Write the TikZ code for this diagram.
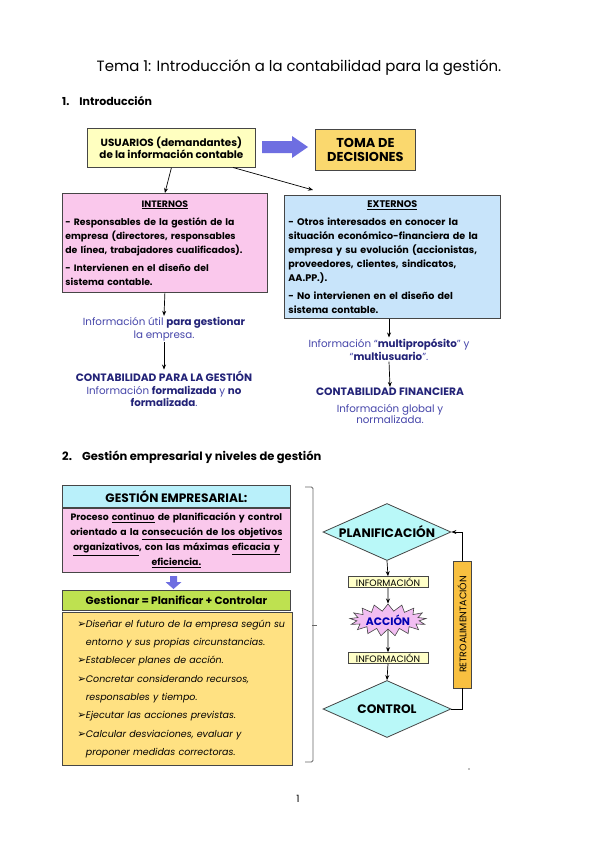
\documentclass[tikz,border=0pt]{standalone}
\usepackage{fontspec}
\setmainfont{Poppins}
\newfontfamily\symfont{DejaVu Sans}
\usetikzlibrary{arrows.meta,shapes.geometric,shapes.symbols,positioning}

\definecolor{usuyellow}{RGB}{255,255,192}
\definecolor{tomagold}{RGB}{250,216,110}
\definecolor{intpink}{RGB}{250,200,236}
\definecolor{extblue}{RGB}{200,228,250}
\definecolor{infoblue}{RGB}{70,70,170}
\definecolor{darkblue}{RGB}{35,35,120}
\definecolor{arrowblue}{RGB}{110,110,225}
\definecolor{gestcyan}{RGB}{185,240,250}
\definecolor{gestgreen}{RGB}{190,225,80}
\definecolor{listgold}{RGB}{255,225,130}
\definecolor{diacyan}{RGB}{185,248,248}
\definecolor{starpink}{RGB}{242,190,242}
\definecolor{retrogold}{RGB}{248,192,64}
\definecolor{infobox}{RGB}{255,255,200}
\definecolor{boxline}{RGB}{70,70,70}

\newcommand{\fs}[2]{\fontsize{#1}{#2}\selectfont}
\newcommand{\bul}{\makebox[8.5pt][l]{\symfont\fontsize{10.5}{10}\selectfont\char"27A2}}

\tikzset{
  box/.style={draw=boxline, line width=0.8pt, inner sep=3pt},
  arr/.style={-{Stealth[length=5pt,width=4pt]}, line width=0.7pt},
  infotext/.style={text=infoblue, align=center, inner sep=1pt},
  smallinfo/.style={box, fill=infobox, line width=0.6pt, minimum width=80pt, minimum height=11pt,
    inner sep=0pt, font=\fs{9.3}{10}},
  dia/.style={diamond, aspect=2.23, draw=boxline, line width=0.8pt, fill=diacyan, inner sep=0pt,
    minimum width=128pt, minimum height=57pt, font=\bfseries\fs{12.3}{13}}
}

\begin{document}
\begin{tikzpicture}[x=1pt,y=-1pt]
\useasboundingbox[fill=white] (0,0) rectangle (599,848);

% titulo y apartado 1
\node (titulo) at (299,68) {\fs{14.9}{17}Tema 1: Introducción a la contabilidad para la gestión.};
\node[anchor=west, inner sep=0pt] (sec1) at (62,101) {\bfseries\fs{11}{12}1.\hspace{10pt}Introducción};

\node[box, fill=usuyellow, anchor=north west, minimum width=168pt, minimum height=39pt,
  align=center, font=\bfseries\fs{10.4}{12}] (usu) at (87,128)
  {USUARIOS (demandantes)\\de la información contable};
\node[box, fill=tomagold, anchor=north west, minimum width=100pt, minimum height=41pt,
  align=center, font=\bfseries\fs{12.9}{14}] (toma) at (315,129) {TOMA DE\\DECISIONES};
\fill[arrowblue] (262,141) -- (292,141) -- (292,136) -- (308,147) -- (292,158)
  -- (292,153) -- (262,153) -- cycle;

\node[box, fill=intpink, anchor=north west, minimum width=205pt, minimum height=99pt,
  inner xsep=3pt, text width=199pt, align=left, font=\bfseries\fs{9.3}{14}] (intern) at (62,193)
  {\makebox[199pt][c]{\underline{INTERNOS}}\\[4pt]
   - Responsables de la gestión de la\\
   empresa (directores, responsables\\
   \mbox{de línea, trabajadores cualificados).}\\[4pt]
   - Intervienen en el diseño del\\
   sistema contable.};
\node[box, fill=extblue, anchor=north west, minimum width=216pt, minimum height=123pt,
  inner xsep=4pt, text width=208pt, align=left, font=\bfseries\fs{9.6}{14}] (extern) at (284,195)
  {\makebox[208pt][c]{\underline{EXTERNOS}}\\[4pt]
   - Otros interesados en conocer la\\
   \mbox{situación económico-financiera de la}\\
   \mbox{empresa y su evolución (accionistas,}\\
   proveedores, clientes, sindicatos,\\
   AA.PP.).\\[4pt]
   - No intervienen en el diseño del\\
   sistema contable.};

\draw[arr] (usu.south) -- (intern.north);
\draw[arr] (233,167.5) -- (313,190);

% informacion interna
\node[infotext, font=\fs{10.3}{13}] (infoA) at (164,329)
  {Información útil \textbf{\color{darkblue}para gestionar}\\la empresa.};
\node[infotext, text=darkblue, font=\bfseries\fs{10.7}{12}] (contA) at (164,376)
  {CONTABILIDAD PARA LA GESTIÓN};
\node[infotext, font=\fs{10.3}{10.5}] (descA) at (164,396)
  {Información \textbf{\color{darkblue}formalizada} y \textbf{\color{darkblue}no}\\
   \textbf{\color{darkblue}formalizada}.};
\draw[arr] (intern.south) -- (infoA.north);
\draw[arr] (infoA.south) -- (contA.north);

% informacion externa
\node[infotext, font=\fs{10.3}{13}] (infoB) at (389,349.5)
  {Información ``\textbf{\color{darkblue}multipropósito}'' y\\
   ``\textbf{\color{darkblue}multiusuario}''.};
\node[infotext, text=darkblue, font=\bfseries\fs{10.7}{12}] (contB) at (390,392)
  {CONTABILIDAD FINANCIERA};
\node[infotext, font=\fs{10.3}{11.5}] (descB) at (390,414)
  {Información global y\\normalizada.};
\draw[arr] (extern.south -| infoB) -- (infoB.north);
\draw[arr] (infoB.south) -- (contB.north);

% apartado 2
\node[anchor=west, inner sep=0pt] (sec2) at (62,457)
  {\bfseries\fs{11.5}{12}2.\hspace{10pt}Gestión empresarial y niveles de gestión};

\node[box, fill=gestcyan, anchor=north west, minimum width=228pt, minimum height=22pt,
  font=\bfseries\fs{12.2}{13}] (gesthead) at (62,485) {GESTIÓN EMPRESARIAL:};
\node[box, fill=intpink, anchor=north west, minimum width=228pt, minimum height=64pt,
  inner xsep=3pt, text width=222pt, align=center, font=\bfseries\fs{9.3}{15}] (gestdef) at (62,508)
  {\mbox{Proceso \underline{continuo} de planificación y control}\\
   \mbox{orientado a la \underline{consecución de los objetivos}}\\
   \mbox{\underline{organizativos}, con las máximas \underline{eficacia y}}\\
   \underline{eficiencia.}};
\fill[arrowblue] (170,576) -- (177,576) -- (177,582) -- (181.5,582) -- (173.5,589)
  -- (165.5,582) -- (170,582) -- cycle;
\node[box, fill=gestgreen, anchor=north west, minimum width=228pt, minimum height=20pt,
  font=\bfseries\fs{10.6}{11}] (gesteq) at (62,590) {Gestionar = Planificar + Controlar};
\node[box, fill=listgold, anchor=north west, minimum width=230pt, minimum height=153pt,
  inner xsep=15pt, text width=200pt, align=left, font=\itshape\fs{9.5}{18.3}] (gestlist) at (62,612)
  {\mbox{\bul Diseñar el futuro de la empresa según su}\\
   \hspace*{8.5pt}\mbox{entorno y sus propias circunstancias.}\\
   \bul Establecer planes de acción.\\
   \bul Concretar considerando recursos,\\
   \hspace*{8.5pt}responsables y tiempo.\\
   \bul Ejecutar las acciones previstas.\\
   \bul Calcular desviaciones, evaluar y\\
   \hspace*{8.5pt}proponer medidas correctoras.};

% llave
\draw[gray!80!black, line width=0.8pt, rounded corners=1.5pt]
  (305,487) -- (313,487) -- (313,762) -- (305,762);
\draw[gray!80!black, line width=0.8pt] (312,625) -- (317,625);

% ciclo de gestion
\node[dia] (plan) at (387,532) {PLANIFICACIÓN};
\node[smallinfo] (info1) at (388,582) {INFORMACIÓN};
\node[starburst, starburst points=17, starburst point height=7pt, random starburst=0,
  draw=boxline, line width=0.6pt, fill=starpink, minimum width=68pt, minimum height=32pt,
  inner sep=0pt, text=blue!70!black, font=\bfseries\fs{10.8}{11}] (accion) at (388,620) {ACCIÓN};
\node[smallinfo] (info2) at (388,658) {INFORMACIÓN};
\node[dia] (control) at (387,709) {CONTROL};
\node[box, fill=retrogold, rotate=90, minimum width=127pt, minimum height=18pt,
  inner sep=0pt, font=\fs{9.5}{10}] (retro) at (462,624.5) {RETROALIMENTACIÓN};

\draw[arr] (plan.south) -- (info1.north);
\draw[arr] (info1.south) -- (accion.north);
\draw[arr] (accion.south) -- (info2.north);
\draw[arr] (info2.south) -- (control.north);
\draw[line width=0.8pt] (control.east) -| (retro.west);
\draw[arr] (retro.east) |- (plan.east);

\fill[gray] (469,769) circle (0.8);
\node (pagina) at (298,799) {\fs{10}{12}1};
\end{tikzpicture}
\end{document}
